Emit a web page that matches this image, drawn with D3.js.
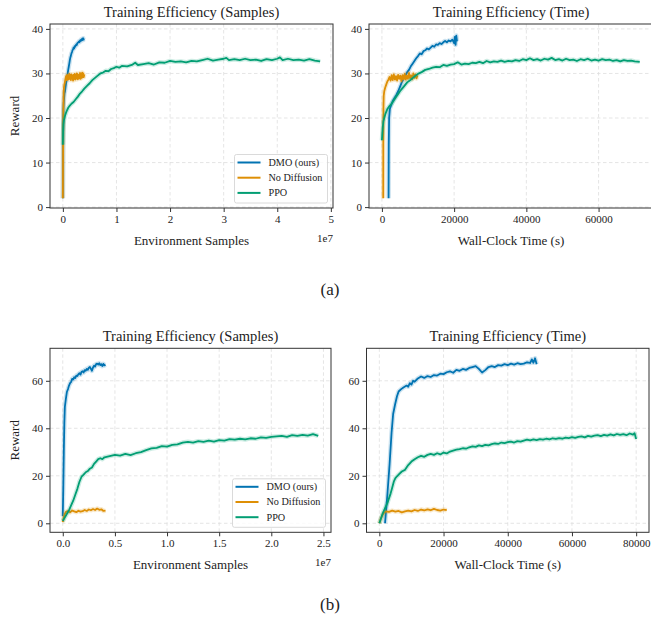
<!DOCTYPE html>
<html lang="en">
<head>
<meta charset="UTF-8" />
<script src="https://d3js.org/d3.v7.min.js"></script>
<title>Training Efficiency</title>
<style>
body { margin: 0; background: #fff; }
svg text { font-family: "Liberation Serif", "Times New Roman", Times, serif !important; fill: #222; }
</style>
</head>
<body>
<script type="text/javascript">
// series
var seriesNames = ["DMO (ours)", "No Diffusion", "PPO"];
var seriesColors = ["#0173b2", "#de8f05", "#029e73"];

// (a) samples, x in 1e7
var dmoSamplesA = [[0,2],[0.005,14],[0.01,22],[0.02,24],[0.03,25.5],[0.04,26],[0.05,27],[0.06,27.8],[0.07,28.5],[0.08,29.3],[0.09,30],[0.10,30.8],[0.11,31.5],[0.12,32.2],[0.13,33],[0.14,33.6],[0.15,34],[0.16,34.5],[0.17,34.8],[0.18,35.2],[0.19,35.4],[0.20,35.8],[0.21,35.6],[0.22,36.1],[0.23,36],[0.24,36.3],[0.25,36.5],[0.26,36.4],[0.27,36.8],[0.28,36.9],[0.29,37],[0.30,37.2],[0.31,37],[0.32,37.4],[0.33,37.3],[0.34,37.6],[0.35,37.4],[0.36,37.8],[0.37,37.5],[0.38,37.9],[0.39,37.6],[0.40,37.7]];
var ndSamplesA = [[0,2],[0.004,12],[0.008,20],[0.012,24],[0.016,26],[0.02,26.8],[0.03,27.6],[0.04,28.2],[0.05,28.8],[0.06,29.4],[0.07,28.5],[0.08,29.7],[0.09,28.6],[0.10,29.5],[0.11,28.7],[0.12,29.9],[0.13,28.8],[0.14,29.6],[0.15,28.5],[0.16,29.8],[0.17,28.9],[0.18,29.5],[0.19,28.4],[0.20,29.7],[0.21,28.8],[0.22,29.9],[0.23,28.6],[0.24,29.6],[0.25,28.9],[0.26,30],[0.27,28.7],[0.28,29.8],[0.29,28.8],[0.30,29.6],[0.31,28.9],[0.32,30.1],[0.33,28.8],[0.34,29.9],[0.35,29],[0.36,30.2],[0.37,29.1],[0.38,30],[0.39,29.2],[0.40,29.8]];
var ppoSamplesA = [[0,14],[0.005,17],[0.01,18.5],[0.02,19.5],[0.04,20.5],[0.06,21.2],[0.08,21.8],[0.1,22.3],[0.13,22.8],[0.16,23.2],[0.2,23.6],[0.24,24.2],[0.28,24.8],[0.32,25.5],[0.36,26],[0.4,26.6],[0.45,27.2],[0.5,27.8],[0.55,28.5],[0.6,29],[0.65,29.5],[0.7,30],[0.75,30.2],[0.8,30.6],[0.85,30.5],[0.9,31],[0.95,31.2],[1.0,31.5],[1.05,31.3],[1.1,31.7],[1.2,31.6],[1.3,32],[1.35,32.4],[1.4,31.9],[1.5,32.1],[1.6,32.3],[1.7,32],[1.8,32.5],[1.9,32.4],[2.0,32.8],[2.1,32.6],[2.2,32.7],[2.3,32.5],[2.4,32.8],[2.5,32.7],[2.6,33],[2.7,33.3],[2.8,32.9],[2.9,33.1],[3.0,33.3],[3.05,33.5],[3.1,33],[3.2,33.2],[3.3,33],[3.4,33.3],[3.5,33],[3.6,33.1],[3.7,32.8],[3.8,33.2],[3.9,33],[4.0,33.3],[4.05,33.6],[4.1,33],[4.2,33.3],[4.3,33],[4.4,33.1],[4.5,32.9],[4.6,33.2],[4.7,32.9],[4.8,32.7]];

// (a) wall-clock, x in seconds
var dmoTimeA = [[1850,2],[1900,14],[2000,20],[2200,22],[2600,23],[3000,23.8],[3500,24.5],[4000,25.2],[4500,26],[5000,27],[5500,28],[6000,28.8],[6500,29.5],[7000,30.3],[7500,30.8],[8000,31.6],[8500,32.2],[9000,32.8],[9500,33.4],[10000,33.9],[10500,34.5],[11000,34.3],[11500,35],[12000,35.2],[12500,35.6],[13000,35.4],[13500,35.8],[14000,36.2],[14500,36],[15000,36.5],[15500,36.4],[16000,36.8],[16500,36.6],[17000,37],[17500,37.3],[18000,37],[18500,37.4],[19000,37.2],[19500,37.6],[20000,36.8],[20200,38.2],[20400,36.4],[20600,38.5],[20800,37.2]];
var ndTimeA = [[360,2],[380,14],[420,22],[500,25],[650,26],[900,26.8],[1200,27.5],[1500,28.2],[1800,28.6],[2100,29.2],[2400,28.4],[2700,29.6],[3000,28.5],[3300,29.8],[3600,28.6],[3900,29.4],[4200,28.4],[4500,29.7],[4800,28.8],[5100,29.5],[5400,28.3],[5700,29.6],[6000,28.7],[6300,29.9],[6600,28.6],[6900,29.5],[7200,28.8],[7500,30.1],[7800,28.9],[8100,29.6],[8400,28.7],[8700,30],[9000,29],[9300,29.8],[9600,28.9],[9850,29.6]];
var ppoTimeA = [[0,15],[200,17.5],[400,19.2],[650,20],[1000,21],[1500,22],[2000,22.6],[2500,23],[3000,23.6],[3500,24.2],[4000,24.8],[4500,25.4],[5000,26],[6000,27],[7000,28],[8000,28.6],[9000,29.3],[10000,29.9],[11000,30.3],[12000,30.8],[13000,31],[14000,31.3],[15000,31.5],[16000,31.4],[17000,31.9],[18000,31.7],[19000,32],[20000,32.1],[21000,32.5],[22000,32],[23000,32.2],[24000,32.1],[25000,32.4],[26000,32.3],[27000,32.6],[28000,32.3],[29000,32.8],[30000,32.5],[31000,32.7],[32000,32.6],[33000,32.9],[34000,32.6],[35000,32.8],[36000,32.7],[37000,33],[38000,32.8],[39000,33.2],[40000,33],[41000,33.4],[42000,33],[43000,33.2],[44000,32.9],[45000,33.3],[46000,33.1],[47000,33.5],[48000,33],[49000,33.2],[50000,32.9],[51000,33.3],[52000,33],[53000,33.1],[54000,32.8],[55000,33.2],[56000,33],[57000,33.3],[58000,32.9],[59000,33.1],[60000,32.9],[61000,33.2],[62000,33],[63000,33.1],[64000,32.8],[65000,33],[66000,32.7],[67000,33],[68000,32.8],[69000,32.9],[70000,32.7],[71400,32.6]];

// (b) samples, x in 1e7
var dmoSamplesB = [[0,3],[0.005,15],[0.01,30],[0.015,42],[0.02,49],[0.03,52.5],[0.04,55.4],[0.05,56.5],[0.06,58],[0.07,59],[0.08,59.5],[0.09,60.8],[0.10,60.5],[0.11,61.5],[0.12,61.2],[0.13,62.2],[0.14,62],[0.15,62.8],[0.16,63.2],[0.17,62.6],[0.18,63.8],[0.19,64],[0.20,63.5],[0.21,64.5],[0.22,64.2],[0.23,65],[0.24,64.6],[0.25,65.5],[0.26,65.8],[0.27,65],[0.28,64.2],[0.29,65.6],[0.30,66.4],[0.31,66],[0.32,67],[0.33,67.2],[0.34,66.8],[0.35,67.4],[0.36,66.6],[0.37,67],[0.38,66.2],[0.39,67.1],[0.40,66.5],[0.41,66.8]];
var ndSamplesB = [[0,0.5],[0.01,2.5],[0.02,4],[0.03,4.8],[0.05,5.2],[0.07,4.6],[0.09,5.4],[0.11,5],[0.13,4.7],[0.15,5.3],[0.17,4.9],[0.19,5.1],[0.21,5.6],[0.23,5.2],[0.25,5.8],[0.27,5.5],[0.29,6],[0.31,5.6],[0.33,6.2],[0.35,5.7],[0.37,5.9],[0.39,5.2],[0.41,5.3]];
var ppoSamplesB = [[0,1],[0.02,2.5],[0.04,4],[0.06,5.5],[0.08,7.5],[0.1,9.5],[0.12,12],[0.14,14.5],[0.16,17.5],[0.18,19.6],[0.2,20.5],[0.22,21.5],[0.24,22],[0.26,23],[0.28,23.5],[0.3,25],[0.32,26],[0.34,27],[0.36,27.4],[0.38,27],[0.4,27.8],[0.45,28.3],[0.5,28.8],[0.55,28.5],[0.6,29.2],[0.65,28.7],[0.7,29.5],[0.75,30],[0.8,30.8],[0.85,31.5],[0.9,31.8],[0.95,32.5],[1.0,32.3],[1.05,33],[1.1,33.2],[1.15,34],[1.2,34.3],[1.25,34],[1.3,34.6],[1.35,34.3],[1.4,34.8],[1.45,34.4],[1.5,35],[1.55,34.8],[1.6,35.4],[1.65,35.2],[1.7,35.6],[1.75,35.3],[1.8,35.8],[1.85,35.6],[1.9,36.2],[1.95,36],[2.0,36.4],[2.05,36.6],[2.1,36.8],[2.15,36.4],[2.2,37.1],[2.25,36.8],[2.3,37.2],[2.35,36.9],[2.4,37.5],[2.45,36.8]];

// (b) wall-clock, x in seconds
var dmoTimeB = [[1770,0],[2500,12],[3200,25],[3800,38],[4300,46],[4900,50],[5500,53.5],[6000,55.5],[6800,56.5],[7500,57.2],[8500,58],[9000,57.5],[9500,59],[10000,58.4],[10500,60],[11000,59.6],[12000,61],[13000,61.8],[14000,61.2],[15000,62],[16000,61.6],[17000,62.4],[18000,62.2],[19000,63],[20000,62.8],[21000,63.6],[22000,64],[23000,63.4],[24000,64.6],[25000,64.2],[26000,65],[27000,64.6],[28000,65.4],[29000,65.8],[30000,66.2],[31000,65],[32000,63.5],[33000,64.5],[34000,65.8],[35000,66.2],[36000,65.8],[37000,66.6],[38000,66.4],[39000,67],[40000,66.6],[41000,67.2],[42000,66.8],[43000,67.4],[44000,67],[45000,67.2],[46000,67.8],[47000,67.5],[47500,69],[48000,67.6],[48500,69.5],[49000,67]];
var ndTimeB = [[0,0],[500,2],[1000,3.5],[1500,4.5],[2000,5],[3000,4.8],[4000,5.3],[5000,4.9],[6000,5.2],[7000,4.6],[8000,5],[9000,5.3],[10000,5],[11000,5.6],[12000,5.2],[13000,5.8],[14000,5.4],[15000,5.9],[16000,5.5],[17000,6.1],[18000,5.6],[19000,5.3],[20000,5.8],[21000,5.5]];
var ppoTimeB = [[0,0],[500,2],[1000,4],[1500,5.5],[2000,7],[2500,8.5],[3000,10.5],[3500,12.5],[4000,15],[4500,17.5],[5000,19],[5500,19.8],[6000,20.5],[7000,21.8],[8000,22.5],[9000,24.5],[10000,26],[11000,27],[12000,27.8],[13000,28.4],[14000,28],[15000,28.8],[16000,29.2],[17000,28.8],[18000,29.5],[19000,29],[20000,29.8],[21000,29.4],[22000,30.2],[23000,30.6],[24000,31],[25000,31.2],[26000,31.6],[27000,31.4],[28000,32],[29000,32.4],[30000,32.2],[31000,32.8],[32000,32.5],[33000,33],[34000,32.8],[35000,33.3],[36000,33.6],[37000,33.4],[38000,34],[39000,33.8],[40000,34.2],[41000,34.4],[42000,34],[43000,34.6],[44000,34.4],[45000,34.8],[46000,35.2],[47000,34.9],[48000,35.3],[49000,35],[50000,35.4],[51000,35.2],[52000,35.6],[53000,35.3],[54000,35.8],[55000,35.5],[56000,35.9],[57000,35.6],[58000,36.1],[59000,35.9],[60000,36.3],[61000,36],[62000,36.4],[63000,36.6],[64000,36.2],[65000,36.8],[66000,36.5],[67000,36.9],[68000,37.1],[69000,36.7],[70000,37.2],[71000,36.9],[72000,37.4],[73000,37],[74000,37.6],[75000,37.2],[76000,37.5],[77000,37.1],[78000,37.8],[79000,37.3],[79500,37.9],[80000,35.5]];

// ticks
var yTicksA = [0, 10, 20, 30, 40];
var yTicksB = [0, 20, 40, 60];
var xTicksSamplesA = [0, 1, 2, 3, 4, 5];
var xTicksSamplesB = [0, 0.5, 1.0, 1.5, 2.0, 2.5];
var xTicksTimeA = [0, 20000, 40000, 60000];
var xTicksTimeB = [0, 20000, 40000, 60000, 80000];

var W = 651, H = 624;
var FONT = "'Liberation Serif', 'Times New Roman', Times, serif";
var svg = d3.select("body").append("svg").attr("width", W).attr("height", H)
  .attr("font-family", FONT);

var panels = [
  {l:50, r:333, t:24, b:208, xd:[-0.24,5.04], yd:[-0.2,41.1], xt:xTicksSamplesA, yt:yTicksA, fmt:d3.format("d"),
   title:"Training Efficiency (Samples)", xlab:"Environment Samples", offset:"1e7", ylab:true, legend:true,
   lines:[dmoSamplesA, ndSamplesA, ppoSamplesA]},
  {l:369, r:653, t:24, b:208, xd:[-3575,75075], yd:[-0.2,41.1], xt:xTicksTimeA, yt:yTicksA, fmt:d3.format("d"),
   title:"Training Efficiency (Time)", xlab:"Wall-Clock Time (s)", offset:null, ylab:false, legend:false,
   lines:[dmoTimeA, ndTimeA, ppoTimeA]},
  {l:50, r:331, t:348.3, b:532.3, xd:[-0.1225,2.5725], yd:[-3.79,73.68], xt:xTicksSamplesB, yt:yTicksB, fmt:d3.format(".1f"),
   title:"Training Efficiency (Samples)", xlab:"Environment Samples", offset:"1e7", ylab:true, legend:true,
   lines:[dmoSamplesB, ndSamplesB, ppoSamplesB]},
  {l:366.5, r:649, t:348.3, b:532.3, xd:[-4000,84000], yd:[-3.79,73.68], xt:xTicksTimeB, yt:yTicksB, fmt:d3.format("d"),
   title:"Training Efficiency (Time)", xlab:"Wall-Clock Time (s)", offset:null, ylab:false, legend:false,
   lines:[dmoTimeB, ndTimeB, ppoTimeB]}
];

panels.forEach(function(p, pi) {
  var x = d3.scaleLinear().domain(p.xd).range([p.l, p.r]);
  var y = d3.scaleLinear().domain(p.yd).range([p.b, p.t]);
  var g = svg.append("g");

  // grid
  g.selectAll(".gx").data(p.xt).enter().append("line")
    .attr("x1", function(d){ return x(d); }).attr("x2", function(d){ return x(d); })
    .attr("y1", p.t).attr("y2", p.b)
    .attr("stroke", "#dedede").attr("stroke-width", 0.8).attr("stroke-dasharray", "3.5,2.5");
  g.selectAll(".gy").data(p.yt).enter().append("line")
    .attr("x1", p.l).attr("x2", p.r)
    .attr("y1", function(d){ return y(d); }).attr("y2", function(d){ return y(d); })
    .attr("stroke", "#dedede").attr("stroke-width", 0.8).attr("stroke-dasharray", "3.5,2.5");

  // lines with light band
  var clipId = "clip" + pi;
  svg.append("clipPath").attr("id", clipId).append("rect")
    .attr("x", p.l).attr("y", p.t).attr("width", p.r - p.l).attr("height", p.b - p.t);
  var line = d3.line().x(function(d){ return x(d[0]); }).y(function(d){ return y(d[1]); });
  var lg = g.append("g").attr("clip-path", "url(#" + clipId + ")");
  p.lines.forEach(function(data, i) {
    lg.append("path").datum(data).attr("d", line)
      .attr("fill", "none").attr("stroke", seriesColors[i]).attr("stroke-opacity", 0.2)
      .attr("stroke-width", 4.5).attr("stroke-linejoin", "round");
    lg.append("path").datum(data).attr("d", line)
      .attr("fill", "none").attr("stroke", seriesColors[i])
      .attr("stroke-width", 1.8).attr("stroke-linejoin", "round");
  });

  // axes
  var xa = g.append("g").attr("transform", "translate(0," + p.b + ")")
    .call(d3.axisBottom(x).tickValues(p.xt).tickFormat(p.fmt).tickSize(4).tickPadding(3));
  var ya = g.append("g").attr("transform", "translate(" + p.l + ",0)")
    .call(d3.axisLeft(y).tickValues(p.yt).tickFormat(d3.format("d")).tickSize(4).tickPadding(3));
  [xa, ya].forEach(function(a) {
    a.attr("font-family", FONT).attr("font-size", 11);
    a.select(".domain").remove();
    a.selectAll(".tick line").attr("stroke", "#333");
    a.selectAll(".tick text").attr("fill", "#222");
  });

  // frame
  g.append("rect").attr("x", p.l).attr("y", p.t).attr("width", p.r - p.l).attr("height", p.b - p.t)
    .attr("fill", "none").attr("stroke", "#333").attr("stroke-width", 1);

  // labels
  var cx = (p.l + p.r) / 2;
  g.append("text").attr("x", cx).attr("y", p.t - 7).attr("text-anchor", "middle")
    .attr("font-size", 14.5).text(p.title);
  g.append("text").attr("x", cx).attr("y", p.b + 37).attr("text-anchor", "middle")
    .attr("font-size", 13).text(p.xlab);
  if (p.offset) {
    g.append("text").attr("x", p.r).attr("y", p.b + 34).attr("text-anchor", "end")
      .attr("font-size", 11).text(p.offset);
  }
  if (p.ylab) {
    g.append("text").attr("transform", "translate(19," + ((p.t + p.b) / 2) + ") rotate(-90)")
      .attr("text-anchor", "middle").attr("font-size", 13).text("Reward");
  }

  // legend
  if (p.legend) {
    var bw = 93, bh = 48.5;
    var bx = p.r - 5.5 - bw, by = p.b - 5 - bh;
    var leg = g.append("g").attr("transform", "translate(" + bx + "," + by + ")");
    leg.append("rect").attr("width", bw).attr("height", bh).attr("rx", 2)
      .attr("fill", "#fff").attr("fill-opacity", 0.8).attr("stroke", "#d0d0d0").attr("stroke-width", 0.8);
    seriesNames.forEach(function(name, i) {
      var ry = 8 + i * 15.2;
      leg.append("line").attr("x1", 3).attr("x2", 26).attr("y1", ry).attr("y2", ry)
        .attr("stroke", seriesColors[i]).attr("stroke-width", 2);
      leg.append("text").attr("x", 34).attr("y", ry + 3.5).attr("font-size", 10.2).text(name);
    });
  }
});

// sub-figure captions
svg.append("text").attr("x", 330).attr("y", 295).attr("text-anchor", "middle")
  .attr("font-size", 17).text("(a)");
svg.append("text").attr("x", 330).attr("y", 610).attr("text-anchor", "middle")
  .attr("font-size", 17).text("(b)");
</script>
</body>
</html>
